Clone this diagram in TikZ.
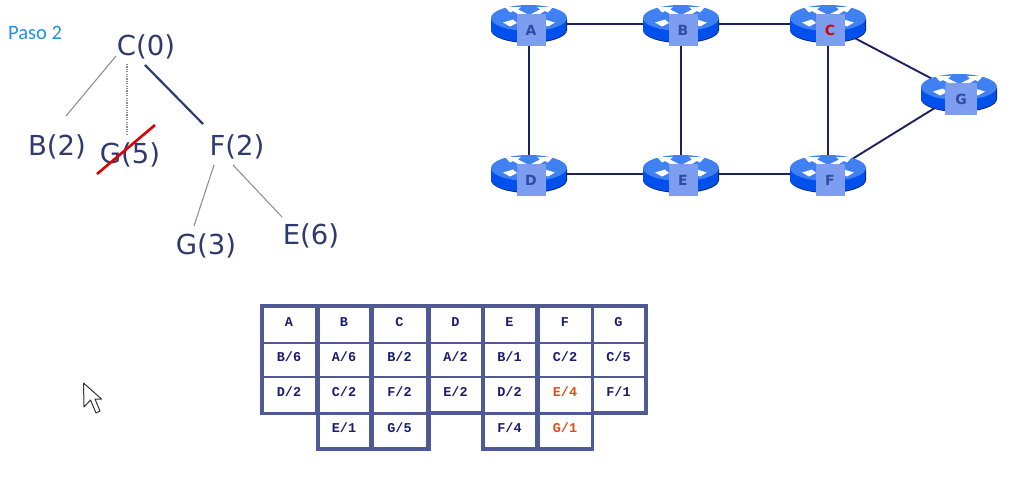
\documentclass[tikz,border=0pt]{standalone}
\usepackage{fontspec}
\setmainfont{DejaVu Sans}
\newfontfamily\pasofont{Carlito}
\newfontfamily\tablefont{Liberation Mono}
\usetikzlibrary{backgrounds,shapes.geometric}
\definecolor{inkb}{HTML}{2F3A70}
\definecolor{linkc}{HTML}{1C2160}
\definecolor{framec}{HTML}{4F5A95}
\definecolor{cellt}{HTML}{1C1C70}
\definecolor{orangec}{HTML}{D8501C}
\definecolor{rtop}{HTML}{3F80F2}
\definecolor{rside}{HTML}{0050EE}
\definecolor{rrim}{HTML}{0A1A50}
\definecolor{rlabel}{HTML}{7C9DF0}
\definecolor{rtext}{HTML}{2F4CA0}
\definecolor{pasoc}{HTML}{2090E8}
\definecolor{edgec}{HTML}{8A8C94}
\tikzset{
  treelabel/.style={inner sep=0pt,text=inkb,font=\fontsize{27.5}{30}\selectfont},
  thinedge/.style={draw=edgec,line width=1.1pt,dash pattern=on 2pt off 0.4pt},
  dotedge/.style={draw=edgec,line width=1.1pt,dash pattern=on 1.2pt off 1.2pt},
  boldedge/.style={draw=inkb,line width=2.2pt},
  strike/.style={draw=red!88!black,line width=2.6pt},
  netlink/.style={draw=linkc,line width=1.9pt},
  routeranchor/.style={ellipse,minimum width=76pt,minimum height=38pt,inner sep=0pt},
  routerlabel/.style={fill=rlabel,minimum width=29pt,minimum height=32pt,inner sep=0pt,text=rtext,font=\fontsize{14}{16}\selectfont\bfseries},
  cell/.style={fill=white,draw=none,inner sep=0pt,text height=8pt,text depth=5pt,text=cellt,font=\tablefont\fontsize{13.5}{15}\selectfont\bfseries},
  framefill/.style={fill=framec},
  cursorshape/.style={fill=white,draw=black!80,line width=1pt,line join=round}
}
\newcommand{\routerdraw}[5][]{%
  \begin{scope}[shift={(#3,#4)}]
    \fill[rrim] (-38,6) -- (-38,-5) -- (38,-5) -- (38,6) arc[start angle=0,end angle=180,x radius=38,y radius=13] -- cycle;
    \fill[rside] (-38,5.5) -- (-38,-6) -- (37.4,-6) -- (37.4,5.5) arc[start angle=0,end angle=180,x radius=37.7,y radius=12.7] -- cycle;
    \fill[rtop] (0,-6) ellipse[x radius=38,y radius=13];
    \fill[white] (-24,-17) -- (-8,-17) -- (-11,-14.5) -- (-2,-10) -- (-10,-9.5) -- (-16,-13) -- (-19,-11.5) -- cycle;
    \fill[white] (24,-17) -- (8,-17) -- (11,-14.5) -- (2,-10) -- (10,-9.5) -- (16,-13) -- (19,-11.5) -- cycle;
    \fill[white] (-26,-1.5) -- (-16,-4.5) -- (-12,-1) -- (-19,2.5) -- cycle;
    \fill[white] (26,-1.5) -- (16,-4.5) -- (12,-1) -- (19,2.5) -- cycle;
    \node[routeranchor] (#2) at (0,0) {};
    \node[routerlabel,#1] (#2l) at (2,6) {#5};
  \end{scope}}
\begin{document}
\begin{tikzpicture}[x=1pt,y=-1pt]
\useasboundingbox (0,0) rectangle (1010,477);
% title
\node[anchor=west,inner sep=0pt,text=pasoc,font=\pasofont\fontsize{20.5}{22}\selectfont] (paso) at (8,32.5) {Paso 2};
% tree
\node[treelabel] (tc) at (146,47) {C(0)};
\node[treelabel] (tb) at (57,147) {B(2)};
\node[treelabel] (tg) at (130,155) {G(5)};
\node[treelabel] (tf) at (237,147) {F(2)};
\node[treelabel] (tgg) at (206,246) {G(3)};
\node[treelabel] (te) at (311,236) {E(6)};
\draw[thinedge] ([shift={(-30,9)}]tc.center) -- ([shift={(9,-31)}]tb.center);
\draw[dotedge] ([shift={(-19,17)}]tc.center) -- ([shift={(-3,-20)}]tg.center);
\draw[boldedge] ([shift={(-1,18)}]tc.center) -- ([shift={(-34,-23)}]tf.center);
\draw[thinedge] ([shift={(-23,18)}]tf.center) -- ([shift={(-12,-20)}]tgg.center);
\draw[thinedge] ([shift={(-4,18)}]tf.center) -- ([shift={(-29,-19)}]te.center);
\draw[strike] ([shift={(-33,19)}]tg.center) -- ([shift={(25,-30)}]tg.center);
% network
\routerdraw{A}{529}{24}{A}
\routerdraw{B}{681}{24}{B}
\routerdraw{C}{828}{24}{\textcolor{red!85!black}{C}}
\routerdraw{D}{529}{174}{D}
\routerdraw{E}{681}{174}{E}
\routerdraw{F}{828}{174}{F}
\routerdraw[minimum width=32pt]{G}{959}{93}{G}
\begin{pgfonlayer}{background}
\draw[netlink] (A) -- (B);
\draw[netlink] (B) -- (C);
\draw[netlink] (D) -- (E);
\draw[netlink] (E) -- (F);
\draw[netlink] (A) -- (D);
\draw[netlink] (B) -- (E);
\draw[netlink] (C) -- (F);
\draw[netlink] (C) -- (G);
\draw[netlink] (F) -- (G);
\end{pgfonlayer}
% table frames
\fill[framefill] (260,304) rectangle (320,415);
\fill[framefill] (316,304) rectangle (431,451);
\fill[framefill] (427,304) rectangle (485,415);
\fill[framefill] (481,304) rectangle (594,451);
\fill[framefill] (591,304) rectangle (648,415);
% table cells: \cellbox name x0 x1 y0 y1 text
\newcommand{\cellbox}[6]{\node[cell,minimum width=#3-#2,minimum height=#5-#4] (#1) at ({(#2+#3)/2},{(#4+#5)/2}) {\kern-1pt #6};}
\cellbox{a1}{264}{315}{308}{342}{A}
\cellbox{a2}{264}{315}{344}{376}{B/6}
\cellbox{a3}{264}{315}{378}{412}{D/2}
\cellbox{b1}{320}{369}{308}{342}{B}
\cellbox{b2}{320}{369}{344}{376}{A/6}
\cellbox{b3}{320}{369}{378}{412}{C/2}
\cellbox{b4}{320}{369}{415}{447}{E/1}
\cellbox{c1}{374}{426}{308}{342}{C}
\cellbox{c2}{374}{426}{344}{376}{B/2}
\cellbox{c3}{374}{426}{378}{412}{F/2}
\cellbox{c4}{374}{426}{415}{447}{G/5}
\cellbox{d1}{431}{481}{308}{342}{D}
\cellbox{d2}{431}{481}{344}{376}{A/2}
\cellbox{d3}{431}{481}{378}{411}{E/2}
\cellbox{e1}{485}{535}{308}{342}{E}
\cellbox{e2}{485}{535}{344}{376}{B/1}
\cellbox{e3}{485}{535}{378}{412}{D/2}
\cellbox{e4}{485}{535}{415}{447}{F/4}
\cellbox{f1}{540}{591}{308}{342}{F}
\cellbox{f2}{540}{591}{344}{376}{C/2}
\cellbox{f3}{540}{591}{378}{412}{\textcolor{orangec}{E/4}}
\cellbox{f4}{540}{591}{415}{447}{\textcolor{orangec}{G/1}}
\cellbox{g1}{594}{644}{308}{342}{G}
\cellbox{g2}{594}{644}{344}{376}{C/5}
\cellbox{g3}{594}{644}{378}{411}{F/1}
% mouse pointer
\draw[cursorshape] (83.5,383) -- (84,407) -- (90.5,400) -- (96,413) -- (100,411) -- (95,399) -- (101.5,399) -- cycle;
\end{tikzpicture}
\end{document}
